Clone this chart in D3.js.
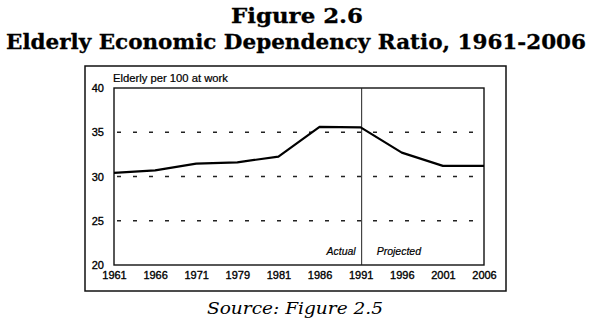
<!DOCTYPE html>
<html><head><meta charset="utf-8">
<script src="https://cdn.jsdelivr.net/npm/d3@7"></script>
<style>body{margin:0;background:#fff}svg{display:block}</style>
</head><body>
<svg id="c" width="594" height="334"></svg>
<script>
const years = ["1961","1966","1971","1979","1981","1986","1991","1996","2001","2006"];
const ratio = [30.4, 30.7, 31.45, 31.6, 32.25, 35.6, 35.55, 32.7, 31.2, 31.2];
const yTicks = [20, 25, 30, 35, 40];
const gridValues = [25, 30, 35];
const dividerYear = "1991";
const titleLines = ["Figure 2.6", "Elderly Economic Dependency Ratio, 1961-2006"];
const yLabel = "Elderly per 100 at work";
const sourceText = "Source: Figure 2.5";

const svg = d3.select("#c");
const m = {left:114, right:484, top:88, bottom:265};
const x = d3.scalePoint().domain(years).range([m.left, m.right]);
const y = d3.scaleLinear().domain([20, 40]).range([m.bottom, m.top]);

// titles
svg.append("text").attr("x",297).attr("y",23).attr("text-anchor","middle")
  .attr("font-family","DejaVu Serif").attr("font-weight","bold").attr("font-size",20)
  .attr("stroke","#000").attr("stroke-width",0.3)
  .attr("textLength",132).attr("lengthAdjust","spacingAndGlyphs").text(titleLines[0]);
svg.append("text").attr("x",296).attr("y",49).attr("text-anchor","middle")
  .attr("font-family","DejaVu Serif").attr("font-weight","bold").attr("font-size",20)
  .attr("stroke","#000").attr("stroke-width",0.3)
  .attr("textLength",580).attr("lengthAdjust","spacingAndGlyphs").text(titleLines[1]);

// outer frame
svg.append("rect").attr("x",85).attr("y",66).attr("width",421).attr("height",225)
  .attr("fill","none").attr("stroke","#111").attr("stroke-width",1.5);

// grid
svg.append("g").selectAll("line").data(gridValues).join("line")
  .attr("x1",m.left+3).attr("x2",m.right-2)
  .attr("y1",d=>y(d)).attr("y2",d=>y(d))
  .attr("stroke","#222").attr("stroke-width",1.3).attr("stroke-dasharray","4,12");

// plot frame
svg.append("rect").attr("x",m.left).attr("y",m.top).attr("width",m.right-m.left).attr("height",m.bottom-m.top)
  .attr("fill","none").attr("stroke","#111").attr("stroke-width",1.4);

// divider
svg.append("line").attr("x1",x(dividerYear)+1).attr("x2",x(dividerYear)+1)
  .attr("y1",m.top).attr("y2",m.bottom).attr("stroke","#222").attr("stroke-width",1);

// axes
const xa = svg.append("g").attr("transform",`translate(0,${m.bottom})`)
  .call(d3.axisBottom(x).tickSize(0).tickPadding(6));
xa.select(".domain").remove();
xa.selectAll("text").attr("font-family","Liberation Sans, Arial, sans-serif").attr("font-size",11)
  .attr("fill","#000").attr("stroke","#000").attr("stroke-width",0.35);

const ya = svg.append("g").attr("transform",`translate(${m.left},0)`)
  .call(d3.axisLeft(y).tickValues(yTicks).tickSize(0).tickPadding(10));
ya.select(".domain").remove();
ya.selectAll("text").attr("font-family","Liberation Sans, Arial, sans-serif").attr("font-size",11)
  .attr("fill","#000").attr("stroke","#000").attr("stroke-width",0.35);

// y label
svg.append("text").attr("x",m.left-1).attr("y",82)
  .attr("font-family","Liberation Sans, Arial, sans-serif").attr("font-size",10)
  .attr("stroke","#000").attr("stroke-width",0.2)
  .attr("textLength",115).attr("lengthAdjust","spacingAndGlyphs").text(yLabel);

// line
const line = d3.line().x((d,i)=>x(years[i])).y(d=>y(d));
svg.append("path").datum(ratio).attr("d",line).attr("fill","none")
  .attr("stroke","#000").attr("stroke-width",2.2).attr("stroke-linejoin","round");

// actual / projected
svg.append("text").attr("x",x(dividerYear)-5).attr("y",255).attr("text-anchor","end")
  .attr("font-family","Liberation Sans, Arial, sans-serif").attr("font-style","italic").attr("font-size",10.5)
  .attr("stroke","#000").attr("stroke-width",0.2)
  .text("Actual");
svg.append("text").attr("x",x(dividerYear)+16).attr("y",255)
  .attr("font-family","Liberation Sans, Arial, sans-serif").attr("font-style","italic").attr("font-size",10.5)
  .attr("stroke","#000").attr("stroke-width",0.2)
  .text("Projected");

// source
svg.append("text").attr("x",295).attr("y",314).attr("text-anchor","middle")
  .attr("font-family","DejaVu Serif").attr("font-style","italic").attr("font-size",16)
  .attr("textLength",176).attr("lengthAdjust","spacingAndGlyphs").text(sourceText);
</script>
</body></html>
